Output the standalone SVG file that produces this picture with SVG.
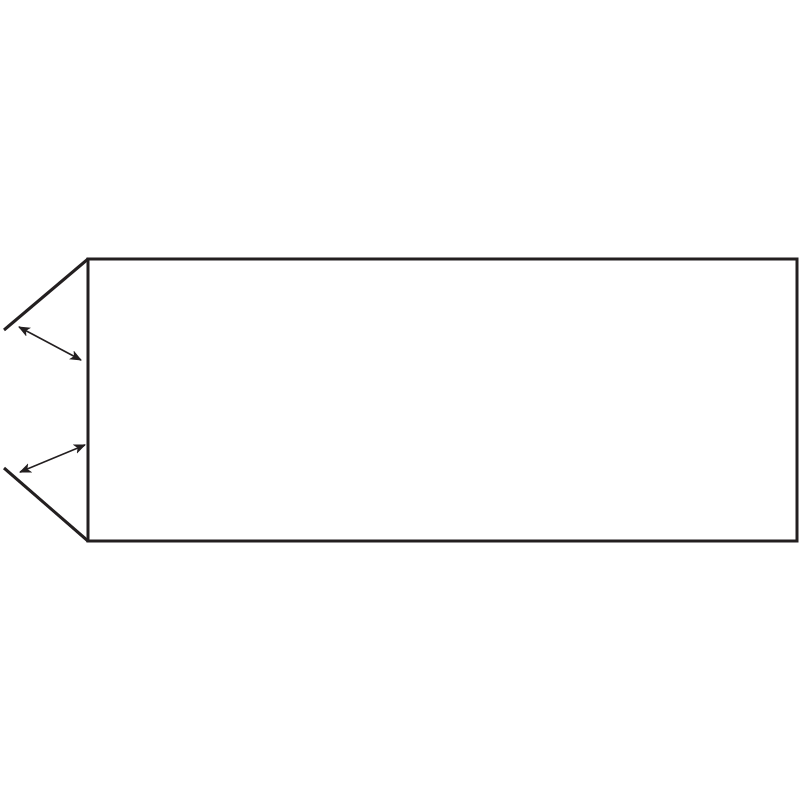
<svg xmlns="http://www.w3.org/2000/svg" width="800" height="800" viewBox="0 0 800 800">
<style>
.edge{fill:none;stroke:#231f20;stroke-width:3}
.arr{fill:none;stroke:#231f20;stroke-width:1.5;marker-start:url(#ah);marker-end:url(#ah)}
</style>
<defs>
<marker id="ah" viewBox="0 0 12 10" refX="11" refY="5" markerWidth="12" markerHeight="10" markerUnits="userSpaceOnUse" orient="auto-start-reverse">
<path d="M0,0 L12,5 L0,10 L3,5 Z" fill="#231f20"/>
</marker>
</defs>
<rect width="800" height="800" fill="#fff"/>
<g id="panel">
<rect class="edge" x="88" y="259" width="709" height="282"/>
</g>
<g id="flaps">
<polyline class="edge" points="4,330 88,259"/>
<polyline class="edge" points="4,468 88,541"/>
</g>
<g id="connectors">
<line class="arr" x1="19" y1="327" x2="81" y2="360"/>
<line class="arr" x1="85" y1="445" x2="20" y2="472"/>
</g>
</svg>
